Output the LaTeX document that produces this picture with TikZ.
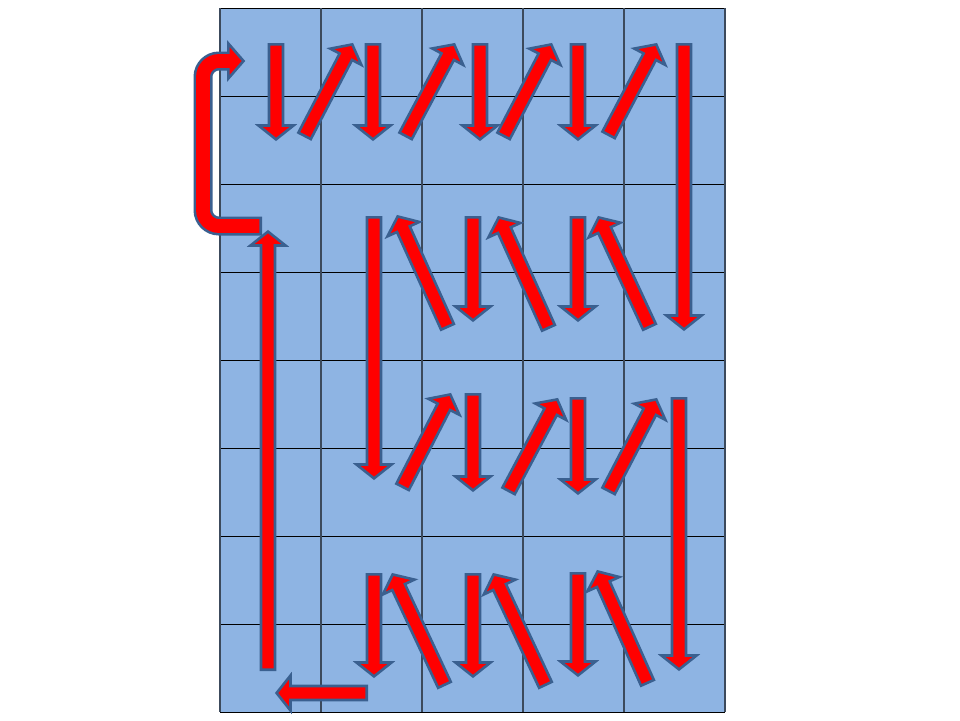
\documentclass[tikz,border=0pt]{standalone}
\usetikzlibrary{calc}
\definecolor{gridblue}{HTML}{8EB4E3}
\definecolor{arrowline}{HTML}{3A6090}
\definecolor{vline}{HTML}{3C4A5C}
\definecolor{arrowred}{HTML}{FF0000}
\tikzset{
  barrow/.style={fill=arrowred, draw=arrowline, line width=2.6pt, line join=miter},
  hgrid/.style={draw=black, line width=1pt},
  vgrid/.style={draw=vline, line width=1.2pt},
}
\newcommand\blockarrow[2]{%
  \draw[barrow] let \p1=(#1), \p2=(#2),
    \n1={atan2(\y2-\y1,\x2-\x1)}, \n2={veclen(\x2-\x1,\y2-\y1)} in
    [shift={(\p1)}, rotate=\n1]
    (1.3pt,-7pt) -- (\n2-15.5pt,-7pt) -- (\n2-15.5pt,-17.5pt) -- (\n2-1.6pt,0pt)
    -- (\n2-15.5pt,17.5pt) -- (\n2-15.5pt,7pt) -- (1.3pt,7pt) -- cycle;}
\begin{document}
\begin{tikzpicture}[x=1pt,y=-1pt]
\useasboundingbox (0,0) rectangle (960,720);
\fill[white] (0,0) rectangle (960,720);
% grid
\fill[gridblue] (220,8) rectangle (725,712);
\foreach \yy in {8,96,184,272,360,448,536,624,712}
  \draw[hgrid] (220,\yy) -- (725,\yy);
\foreach \xx in {220,321,422,523,624,725}
  \draw[vgrid] (\xx,8) -- (\xx,712);
% coordinates
\foreach \nm/\xa/\ya/\xb/\yb in {
  a1/276/43/276/141, a2/304/137/353/43, a3/373/43/373/141, a4/405/137/455/43,
  a5/480/43/480/141, a6/503/137/552/43, a7/578/43/578/141, a8/608/136/657/43,
  a9/684/43/684/331,
  b1/374/216/374/480, b2/448/328/397/215, b3/473/216/473/322, b4/549/329/498/216,
  b5/578/216/578/322, b6/650/328/598/216,
  c1/402/488/451/393, c2/473/393/473/492, c3/508/492/558/398, c4/578/397/578/495,
  c5/608/492/657/398, c6/679/397/679/671,
  d1/374/573/374/678, d2/445/686/392/573, d3/473/573/473/678, d4/546/686/493/573,
  d5/578/572/578/677, d6/648/684/597/570,
  e1/268/671/268/230, e2/368/693/275/693}{
  \coordinate (\nm s) at (\xa,\ya);
  \coordinate (\nm e) at (\xb,\yb);
}
\foreach \nm in {a1,a2,a3,a4,a5,a6,a7,a8,a9,b1,b2,b3,b4,b5,b6,c1,c2,c3,c4,c5,c6,d1,d2,d3,d4,d5,d6,e1,e2}
  \blockarrow{\nm s}{\nm e};
% U-turn arrow
\coordinate (ut) at (262,226);
\coordinate (uti) at (259.4,226);
\coordinate (uc1) at (203,226);
\coordinate (uc2) at (203,61);
\coordinate (uh) at (229,61);
\coordinate (uhi) at (233,61);
\coordinate (hb1) at (228.3,43.5);
\coordinate (htip) at (243.5,61);
\coordinate (hb2) at (228.3,78.5);
\draw[arrowline, line width=19pt, rounded corners=16pt] (ut) -- (uc1) -- (uc2) -- (uh);
\draw[barrow] (hb1) -- (htip) -- (hb2) -- cycle;
\draw[arrowred, line width=13.8pt, rounded corners=16pt] (uti) -- (uc1) -- (uc2) -- (uhi);
\end{tikzpicture}
\end{document}
